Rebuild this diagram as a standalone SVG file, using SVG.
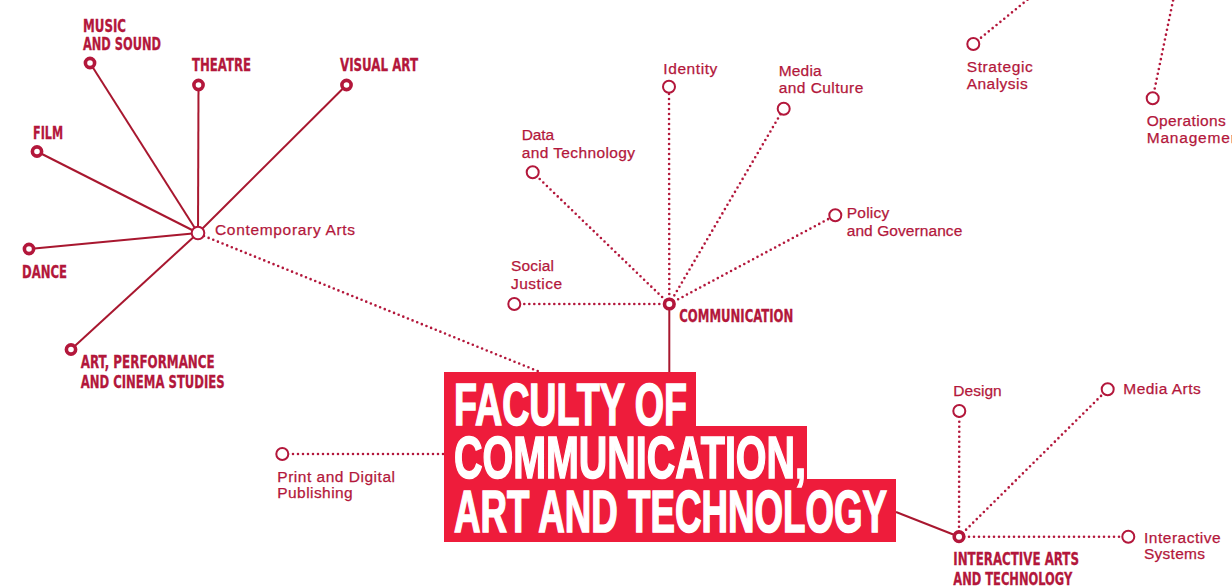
<svg xmlns="http://www.w3.org/2000/svg" width="1232" height="587" viewBox="0 0 1232 587">
<style>
.solid{stroke:#a8172f;stroke-width:2;fill:none}
.dot{stroke:#b3173b;stroke-width:2.6;fill:none;stroke-dasharray:0 5;stroke-linecap:round}
.ring{fill:#fff;stroke:#b3173b;stroke-width:3.6}
.open{fill:#fff;stroke:#b3173b;stroke-width:2}
.b{font-family:"Liberation Sans Narrow","DejaVu Sans Condensed","Liberation Sans",sans-serif;font-weight:bold;font-size:18.5px;fill:#b3173b;stroke:#b3173b;stroke-width:0.3}
.r{font-family:"Liberation Sans","DejaVu Sans",sans-serif;font-size:15.5px;fill:#b3173b;stroke:#b3173b;stroke-width:0.25}
.t{font-family:"Liberation Sans Narrow","Liberation Sans",sans-serif;font-weight:bold;font-size:59px;fill:#fff;stroke:#fff;stroke-width:1.6}
</style>
<rect width="1232" height="587" fill="#fff"/>
<g id="connectors">
<line class="solid" x1="198" y1="233" x2="90" y2="63"/>
<line class="solid" x1="198" y1="233" x2="198.5" y2="85"/>
<line class="solid" x1="198" y1="233" x2="346.5" y2="85"/>
<line class="solid" x1="198" y1="233" x2="37" y2="151.5"/>
<line class="solid" x1="198" y1="233" x2="29" y2="249"/>
<line class="solid" x1="198" y1="233" x2="71" y2="349.5"/>
<line class="dot" x1="204" y1="236" x2="540" y2="372"/>
<line class="dot" x1="288" y1="454" x2="444" y2="454"/>
<line class="solid" x1="669.3" y1="304" x2="669.3" y2="372"/>
<line class="dot" x1="669.3" y1="304" x2="669" y2="87"/>
<line class="dot" x1="669.3" y1="304" x2="783.7" y2="108.7"/>
<line class="dot" x1="669.3" y1="304" x2="532.7" y2="172.3"/>
<line class="dot" x1="669.3" y1="304" x2="835.3" y2="215.3"/>
<line class="dot" x1="669.3" y1="304" x2="514.3" y2="304"/>
<line class="dot" x1="973.3" y1="44" x2="1032" y2="-4"/>
<line class="dot" x1="1152.7" y1="98.3" x2="1174" y2="-4"/>
<line class="solid" x1="896" y1="512" x2="959" y2="536.7"/>
<line class="dot" x1="959" y1="536.7" x2="959.3" y2="411"/>
<line class="dot" x1="959" y1="536.7" x2="1107.7" y2="389.3"/>
<line class="dot" x1="959" y1="536.7" x2="1128.3" y2="536.7"/>
</g>
<g id="title">
<path d="M444 372H696V426H807V479H896V542H444Z" fill="#ee1c3b"/>
<text class="t" x="454" y="425" textLength="233" lengthAdjust="spacingAndGlyphs">FACULTY OF</text>
<text class="t" x="454" y="478" textLength="352" lengthAdjust="spacingAndGlyphs">COMMUNICATION,</text>
<text class="t" x="454" y="532" textLength="433" lengthAdjust="spacingAndGlyphs">ART AND TECHNOLOGY</text>
</g>
<g id="contemporary-arts">
<circle class="open" cx="198" cy="233" r="6.3"/>
<text class="r" x="215" y="235" textLength="140">Contemporary Arts</text>
</g>
<g id="music">
<circle class="ring" cx="90" cy="63" r="4.6"/>
<text class="b" x="83" y="31.5" textLength="43" lengthAdjust="spacingAndGlyphs">MUSIC</text>
<text class="b" x="83" y="50" textLength="78" lengthAdjust="spacingAndGlyphs">AND SOUND</text>
</g>
<g id="theatre">
<circle class="ring" cx="198.5" cy="85" r="4.6"/>
<text class="b" x="192" y="71" textLength="59" lengthAdjust="spacingAndGlyphs">THEATRE</text>
</g>
<g id="visual-art">
<circle class="ring" cx="346.5" cy="85" r="4.6"/>
<text class="b" x="340" y="71" textLength="78" lengthAdjust="spacingAndGlyphs">VISUAL ART</text>
</g>
<g id="film">
<circle class="ring" cx="37" cy="151.5" r="4.6"/>
<text class="b" x="33" y="139.3" textLength="30" lengthAdjust="spacingAndGlyphs">FILM</text>
</g>
<g id="dance">
<circle class="ring" cx="29" cy="249" r="4.6"/>
<text class="b" x="22" y="278" textLength="45" lengthAdjust="spacingAndGlyphs">DANCE</text>
</g>
<g id="apcs">
<circle class="ring" cx="71" cy="349.5" r="4.6"/>
<text class="b" x="80.7" y="367.7" textLength="134" lengthAdjust="spacingAndGlyphs">ART, PERFORMANCE</text>
<text class="b" x="80.7" y="388.3" textLength="144" lengthAdjust="spacingAndGlyphs">AND CINEMA STUDIES</text>
</g>
<g id="print">
<circle class="open" cx="282.3" cy="454" r="6"/>
<text class="r" x="277.3" y="481.7" textLength="117.7">Print and Digital</text>
<text class="r" x="277.3" y="498.3" textLength="75.4">Publishing</text>
</g>
<g id="communication">
<circle class="ring" cx="669.3" cy="304" r="4.8"/>
<text class="b" x="679.3" y="321.7" textLength="114" lengthAdjust="spacingAndGlyphs">COMMUNICATION</text>
</g>
<g id="identity">
<circle class="open" cx="669" cy="86.7" r="6"/>
<text class="r" x="663.3" y="74" textLength="54">Identity</text>
</g>
<g id="media-culture">
<circle class="open" cx="783.7" cy="108.7" r="6"/>
<text class="r" x="778.7" y="76" textLength="43">Media</text>
<text class="r" x="778.7" y="93.3" textLength="84.6">and Culture</text>
</g>
<g id="data-technology">
<circle class="open" cx="532.7" cy="172.3" r="6"/>
<text class="r" x="521.7" y="140" textLength="32.3">Data</text>
<text class="r" x="521.7" y="157.7" textLength="113.3">and Technology</text>
</g>
<g id="policy">
<circle class="open" cx="835.3" cy="215.3" r="6"/>
<text class="r" x="846.7" y="217.7" textLength="42.6">Policy</text>
<text class="r" x="846.7" y="235.7" textLength="115.6">and Governance</text>
</g>
<g id="social-justice">
<circle class="open" cx="514.3" cy="304" r="6"/>
<text class="r" x="511" y="271" textLength="43">Social</text>
<text class="r" x="511" y="289" textLength="51">Justice</text>
</g>
<g id="strategic">
<circle class="open" cx="973.3" cy="44" r="6"/>
<text class="r" x="966.7" y="71.7" textLength="66">Strategic</text>
<text class="r" x="966.7" y="89.3" textLength="61">Analysis</text>
</g>
<g id="operations">
<circle class="open" cx="1152.7" cy="98.3" r="6"/>
<text class="r" x="1146.7" y="125.7" textLength="79">Operations</text>
<text class="r" x="1146.7" y="143.3" letter-spacing="0.8">Management</text>
</g>
<g id="interactive-arts">
<circle class="ring" cx="959" cy="536.7" r="4.8"/>
<text class="b" x="953.3" y="565" textLength="125.7" lengthAdjust="spacingAndGlyphs">INTERACTIVE ARTS</text>
<text class="b" x="953.3" y="585" textLength="119" lengthAdjust="spacingAndGlyphs">AND TECHNOLOGY</text>
</g>
<g id="design">
<circle class="open" cx="959.3" cy="411" r="6"/>
<text class="r" x="953.3" y="396" textLength="48.4">Design</text>
</g>
<g id="media-arts">
<circle class="open" cx="1107.7" cy="389.3" r="6"/>
<text class="r" x="1123.3" y="394" textLength="77.4">Media Arts</text>
</g>
<g id="interactive-systems">
<circle class="open" cx="1128.3" cy="536.7" r="6"/>
<text class="r" x="1144" y="542.7" textLength="76.7">Interactive</text>
<text class="r" x="1144" y="559.3" textLength="61">Systems</text>
</g>
</svg>
